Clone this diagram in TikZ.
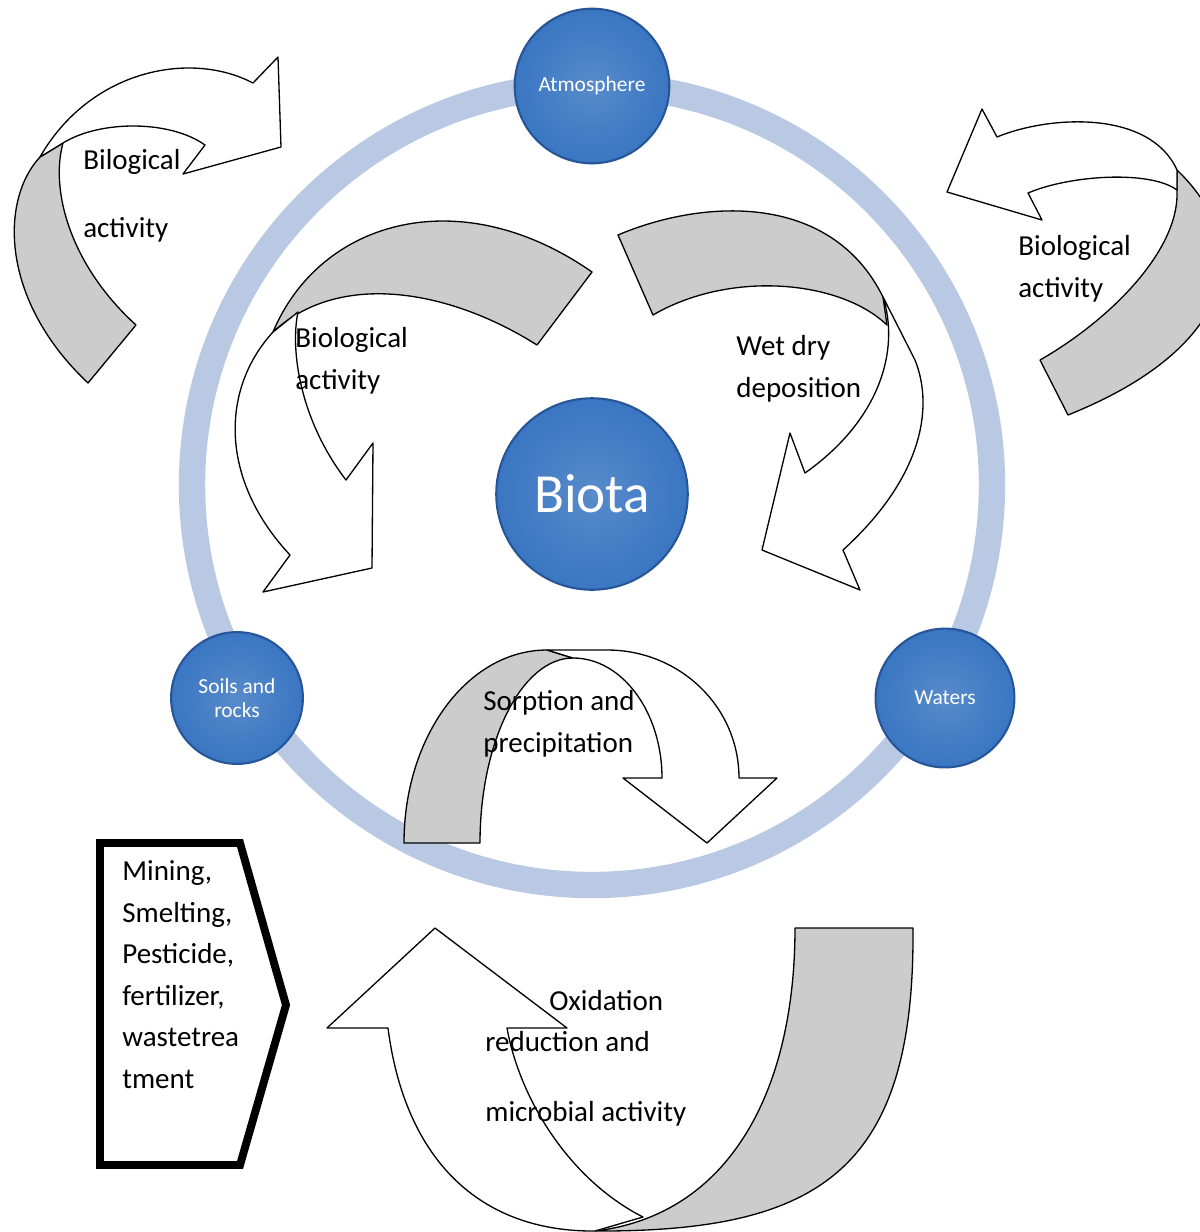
\documentclass[tikz,border=0pt]{standalone}
\usepackage{fontspec}
\setmainfont{Carlito}
\usepackage{xcolor}
\usepackage{tikz}
\usetikzlibrary{calc}
\definecolor{ringblue}{RGB}{185,201,227}
\definecolor{ballblue}{RGB}{58,118,194}
\definecolor{balledge}{RGB}{38,86,152}
\definecolor{backgray}{RGB}{204,204,204}

\begin{document}
\begin{tikzpicture}[x=0.02cm, y=-0.02cm,
  ball/.style={circle, draw=balledge, line width=1.2pt, inner color=ballblue!85!white, outer color=ballblue, text=white, align=center, inner sep=0pt},
  band/.style={draw=black, line width=0.75pt, line join=round},
  lbl/.style={anchor=base west, align=left, inner sep=0pt, font=\fontsize{16.5}{23.6}\selectfont}]
  \useasboundingbox (0,0) rectangle (1200,1232);
  \clip (0,0) rectangle (1200,1232);
  \draw[ringblue, line width=15pt] (592,485) circle [radius=400];
  \path[band, fill=backgray] (40,157) .. controls (0,200) and (0,300) .. (88,383) -- (136,325) .. controls (70,265) and (50,190) .. (63,143) -- cycle;
  \path[band, fill=white] (40,157) .. controls (90,70) and (190,50) .. (253,83) -- (278,57) -- (281,147) -- (183,174) -- (205,145) .. controls (170,120) and (100,120) .. (63,143) -- cycle;
  \path[band, fill=backgray] (1177,170) .. controls (1260,250) and (1230,350) .. (1068,415) -- (1040,360) .. controls (1110,320) and (1180,250) .. (1177,190) -- cycle;
  \path[band, fill=white] (997,137) .. controls (1050,115) and (1150,110) .. (1177,170) -- (1177,190) .. controls (1150,170) and (1070,175) .. (1028,193) -- (1042,220) -- (947,192) -- (982,109) -- cycle;
  \path[band, fill=backgray] (273,332) .. controls (320,220) and (460,180) .. (592,272) -- (537,345) .. controls (450,290) and (340,270) .. (273,332) -- cycle;
  \path[band, fill=white] (273,332) .. controls (220,390) and (220,480) .. (290,555) -- (263,592) -- (372,568) -- (373,443) -- (346,480) .. controls (300,420) and (290,350) .. (298,312) -- cycle;
  \path[band, fill=backgray] (618,235) .. controls (700,200) and (830,190) .. (883,297) -- (887,325) .. controls (840,280) and (730,270) .. (653,315) -- cycle;
  \path[band, fill=white] (883,297) .. controls (900,350) and (880,420) .. (805,473) -- (790,433) -- (762,550) -- (860,590) -- (843,550) .. controls (920,480) and (935,410) .. (915,360) -- cycle;
  \path[band, fill=backgray] (404,843) .. controls (404,736) and (468,650) .. (547,650) -- (573,658) .. controls (522,658) and (480,741) .. (480,843) -- cycle;
  \path[band, fill=white] (547,650) -- (607,650) .. controls (680,650) and (739,707) .. (739,778) -- (777,778) -- (707,843) -- (623,778) -- (662,778) .. controls (662,712) and (622,658) .. (573,658) -- cycle;
  \path[band, fill=backgray] (795,928) -- (913,928) .. controls (915,1170) and (820,1232) .. (595,1231) .. controls (730,1215) and (795,1090) .. (795,928) -- cycle;
  \path[band, fill=white] (388,1028) .. controls (405,1160) and (480,1232) .. (595,1231) -- (643,1217) .. controls (570,1180) and (520,1100) .. (507,1028) -- (567,1028) -- (435,928) -- (327,1028) -- cycle;
  \draw[line width=4.5pt, line join=miter] (100,843) -- (240,843) -- (286,1005) -- (240,1165) -- (100,1165) -- cycle;
  \node[lbl] (sources) at (122,1088) {Mining,\\Smelting,\\Pesticide,\\fertilizer,\\wastetrea\\tment};
  \node[lbl] (bioA) at (83,237) {Bilogical\\[14.7pt]activity};
  \node[lbl] (bioB) at (1018,297) {Biological\\activity};
  \node[lbl] (bioC) at (295,389) {Biological\\activity};
  \node[lbl] (wetdry) at (736,397) {Wet dry\\deposition};
  \node[lbl] (sorption) at (483,752) {Sorption and\\precipitation};
  \node[lbl] (oxid) at (549,1010) {Oxidation};
  \node[lbl] (redox) at (485,1121) {reduction and\\[16pt]microbial activity};
  \node[ball, minimum size=88pt, font=\fontsize{12.2}{14}\selectfont] (atmos) at (592,86) {Atmosphere};
  \node[ball, minimum size=75pt, font=\fontsize{12.2}{14}\selectfont] (soils) at (237,698) {Soils and\\rocks};
  \node[ball, minimum size=79pt, font=\fontsize{12.2}{14}\selectfont] (waters) at (945,698) {Waters};
  \node[ball, minimum size=109pt, font=\fontsize{31.4}{34}\selectfont] (biota) at (592,494) {Biota};
\end{tikzpicture}
\end{document}
